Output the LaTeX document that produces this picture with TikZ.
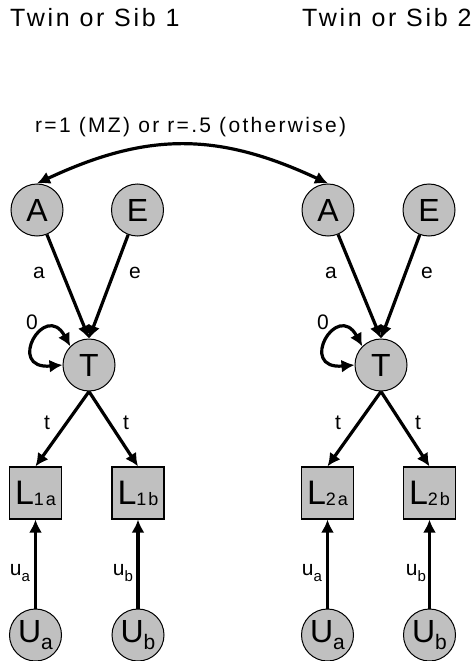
\documentclass[tikz,border=0pt]{standalone}
\usepackage{fontspec}
\setmainfont{Liberation Sans}[LetterSpace=11]
\usetikzlibrary{arrows.meta}
\definecolor{gfill}{HTML}{C0C0C0}
\begin{document}
\begin{tikzpicture}[x=1pt,y=-1pt,
  lat/.style={circle,draw=black,line width=1pt,fill=gfill,minimum size=52pt,inner sep=0pt,font=\fontsize{32}{32}\selectfont},
  obs/.style={rectangle,draw=black,line width=1.2pt,fill=gfill,minimum size=52pt,inner sep=0pt,font=\fontsize{34}{34}\selectfont},
  arr/.style={line width=3.2pt,-{Latex[length=13pt,width=13pt]}},
  arrtwo/.style={line width=3.2pt,{Latex[length=13pt,width=13pt]}-{Latex[length=13pt,width=13pt]}},
  lbl/.style={font=\fontsize{21}{21}\selectfont,inner sep=0pt},
  ttl/.style={font=\fontsize{25}{25}\selectfont,inner sep=0pt,anchor=west}
]
\useasboundingbox (0,0) rectangle (474,661);
% titles
\node[ttl] (title1) at (10,18) {Twin or Sib 1};
\node[ttl] (title2) at (302,18) {Twin or Sib 2};
\node[lbl,anchor=west] (rlab) at (35,127) {r=1 (MZ) or r=.5 (otherwise)};
% twin 1
\node[lat] (A1) at (37,210) {A};
\node[lat] (E1) at (137.5,210) {E};
\node[lat] (T1) at (89,365) {T};
\node[obs] (L1a) at (35.5,493) {L\raisebox{-1pt}{\fontsize{18}{18}\selectfont 1a}};
\node[obs] (L1b) at (138,493) {L\raisebox{-1pt}{\fontsize{18}{18}\selectfont 1b}};
\node[lat] (U1a) at (35.5,635) {U\raisebox{-7pt}{\fontsize{21}{21}\selectfont a}};
\node[lat] (U1b) at (138,635) {U\raisebox{-7pt}{\fontsize{21}{21}\selectfont b}};
% twin 2
\node[lat] (A2) at (328,210) {A};
\node[lat] (E2) at (429,210) {E};
\node[lat] (T2) at (381,365) {T};
\node[obs] (L2a) at (327.5,493) {L\raisebox{-1pt}{\fontsize{18}{18}\selectfont 2a}};
\node[obs] (L2b) at (429.5,493) {L\raisebox{-1pt}{\fontsize{18}{18}\selectfont 2b}};
\node[lat] (U2a) at (327.5,635) {U\raisebox{-7pt}{\fontsize{21}{21}\selectfont a}};
\node[lat] (U2b) at (429.5,635) {U\raisebox{-7pt}{\fontsize{21}{21}\selectfont b}};
% correlation
\draw[arrtwo] (A1.north) .. controls (147,132) and (218,132) .. (A2.north);
% paths twin 1
\draw[arr] (A1) -- (T1.north);
\draw[arr] (E1) -- (T1.north);
\draw[arr] (T1.south) -- (L1a.north);
\draw[arr] (T1.south) -- (L1b.north);
\draw[arr] (U1a) -- (L1a);
\draw[arr] (U1b) -- (L1b);
\draw[arrtwo] (T1.135) .. controls (45,300) and (5,370) .. (T1.west);
% paths twin 2
\draw[arr] (A2) -- (T2.north);
\draw[arr] (E2) -- (T2.north);
\draw[arr] (T2.south) -- (L2a.north);
\draw[arr] (T2.south) -- (L2b.north);
\draw[arr] (U2a) -- (L2a);
\draw[arr] (U2b) -- (L2b);
\draw[arrtwo] (T2.135) .. controls (337,300) and (297,370) .. (T2.west);
% labels twin 1
\node[lbl] (la1) at (39,273) {a};
\node[lbl] (le1) at (135,273) {e};
\node[lbl] (lz1) at (32,322) {0};
\node[lbl] (lt1a) at (47,423) {t};
\node[lbl] (lt1b) at (126,423) {t};
\node[lbl] (lu1a) at (20,573) {u\raisebox{-6pt}{\fontsize{15}{15}\selectfont a}};
\node[lbl] (lu1b) at (123,573) {u\raisebox{-6pt}{\fontsize{15}{15}\selectfont b}};
% labels twin 2
\node[lbl] (la2) at (331,273) {a};
\node[lbl] (le2) at (427,273) {e};
\node[lbl] (lz2) at (323,322) {0};
\node[lbl] (lt2a) at (338,423) {t};
\node[lbl] (lt2b) at (418,423) {t};
\node[lbl] (lu2a) at (312,573) {u\raisebox{-6pt}{\fontsize{15}{15}\selectfont a}};
\node[lbl] (lu2b) at (416,573) {u\raisebox{-6pt}{\fontsize{15}{15}\selectfont b}};
\end{tikzpicture}
\end{document}
